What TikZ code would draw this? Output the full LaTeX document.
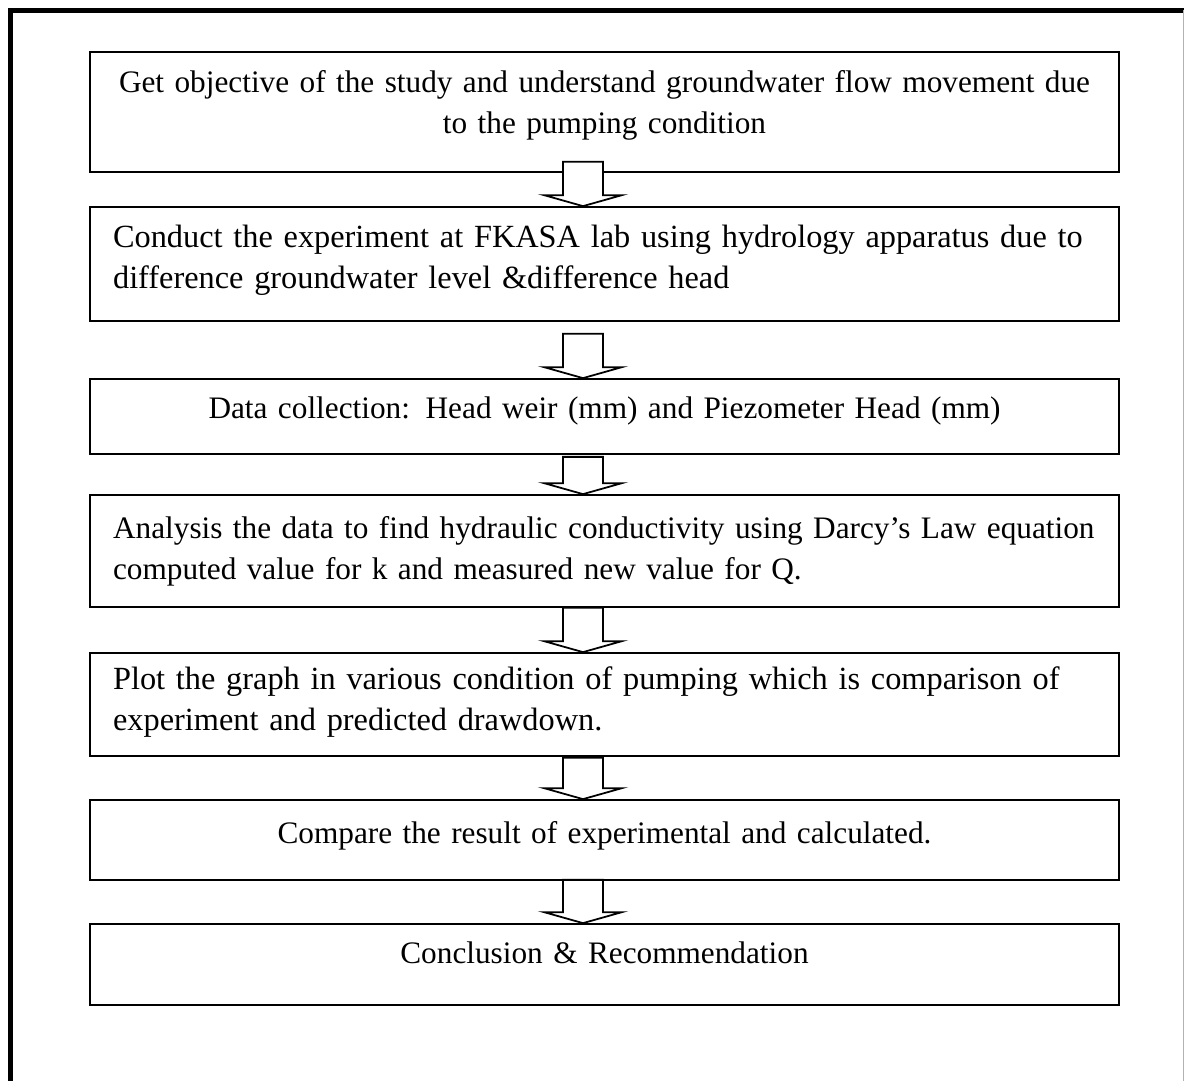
\documentclass[tikz,border=0pt]{standalone}
\usepackage{fontspec}
\setmainfont{Liberation Serif}
\usetikzlibrary{calc}
\colorlet{boxline}{black}
\colorlet{framegrey}{black!30}

% ── Block arrow: #1 from node, #2 to node, #3 shaft start offset ──
\newcommand{\blockarrow}[3]{%
    \draw[blockarr]
        ($(#1.south)+(-41.5,#3)$) -- ($(#2.north)+(-41.5,-11)$)
        -- ($(#2.north)+(-60.5,-11)$) -- ($(#2.north)+(-21.5,0)$)
        -- ($(#2.north)+(17.5,-11)$) -- ($(#2.north)+(-1.5,-11)$)
        -- ($(#1.south)+(-1.5,#3)$) -- cycle;
}

\begin{document}
\begin{tikzpicture}[
    x=0.02cm, y=-0.02cm,
    stepbox/.style={draw=boxline, line width=1pt, minimum width=20.58cm,
                    text width=19.66cm, inner xsep=0.46cm, inner ysep=0pt,
                    font=\fontsize{17.8pt}{23.9pt}\selectfont},
    bigtext/.style={font=\fontsize{18.4pt}{23.9pt}\selectfont},
    blockarr/.style={draw=boxline, fill=white, line width=1pt, line join=miter},
]
\useasboundingbox (0,0) rectangle (1184,1081);

% ════════════════════════════════════════════════════════════
% Page frame
% ════════════════════════════════════════════════════════════
\draw[line width=0.1cm] (10.5,1081) -- (10.5,10.5) -- (1184,10.5);
\draw[framegrey, line width=0.5pt] (1183,10.5) -- (1183,1081);

% ════════════════════════════════════════════════════════════
% Steps
% ════════════════════════════════════════════════════════════
\node[stepbox, align=center, text height=0.8cm, text depth=1.6cm]
    (s1) at (604.5,112)
    {Get objective of the study and understand groundwater flow movement due\\
     to the pumping condition};

\node[stepbox, bigtext, align=left, text height=0.8cm, text depth=1.48cm]
    (s2) at (604.5,264)
    {Conduct the experiment at FKASA lab using hydrology apparatus due to\\
     difference groundwater level \&difference head};

\node[stepbox, align=center, text height=0.8cm, text depth=0.7cm]
    (s3) at (604.5,416.5)
    {Data collection: Head weir (mm) and Piezometer Head (mm)};

\node[stepbox, align=left, text height=0.86cm, text depth=1.38cm]
    (s4) at (604.5,551)
    {Analysis the data to find hydraulic conductivity using Darcy’s Law equation\\
     computed value for k and measured new value for Q.};

\node[stepbox, bigtext, align=left, text height=0.72cm, text depth=1.34cm]
    (s5) at (604.5,704.5)
    {Plot the graph in various condition of pumping which is comparison of\\
     experiment and predicted drawdown.};

\node[stepbox, align=center, text height=0.86cm, text depth=0.74cm]
    (s6) at (604.5,840)
    {Compare the result of experimental and calculated.};

\node[stepbox, align=center, text height=0.78cm, text depth=0.84cm]
    (s7) at (604.5,964.5)
    {Conclusion \& Recommendation};

% ── Arrows between steps ──
\blockarrow{s1}{s2}{-11}
\blockarrow{s2}{s3}{12}
\blockarrow{s3}{s4}{2}
\blockarrow{s4}{s5}{0}
\blockarrow{s5}{s6}{1}
\blockarrow{s6}{s7}{-1}

\end{tikzpicture}
\end{document}
